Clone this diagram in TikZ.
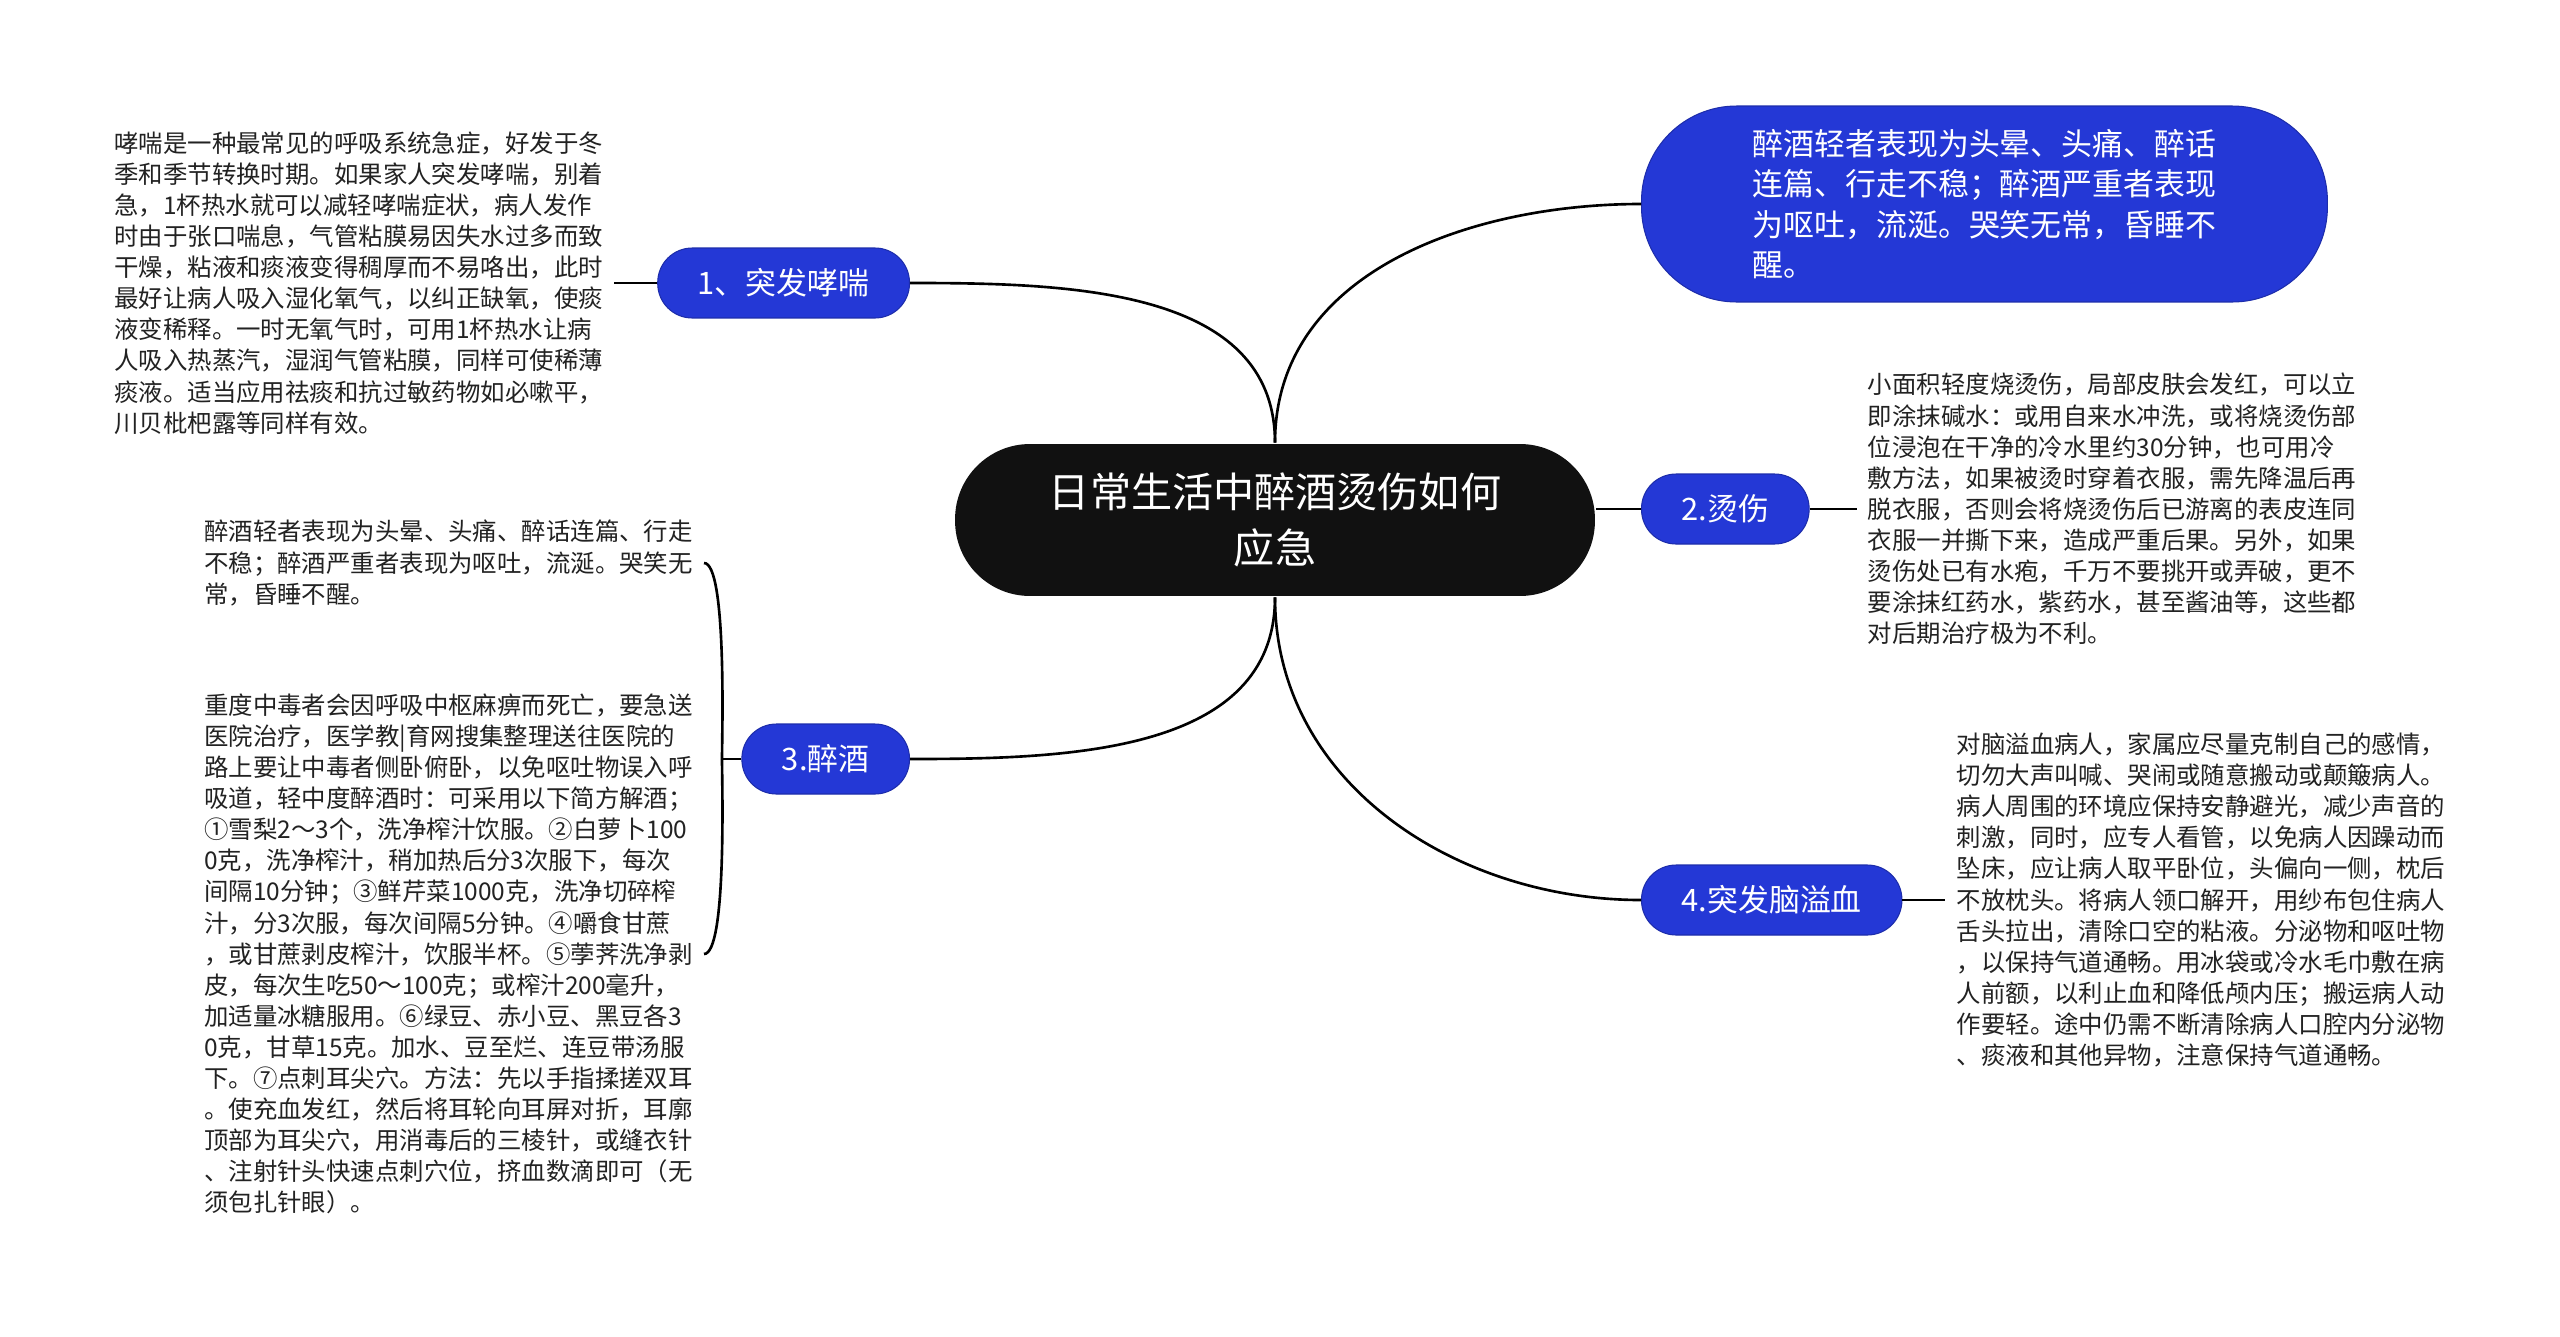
\documentclass[tikz,border=0pt]{standalone}
\usepackage{fontspec}
\setmainfont{Noto Sans CJK SC}
\usetikzlibrary{positioning}
\definecolor{mapblue}{HTML}{2438D6}
\definecolor{mapblack}{HTML}{111111}
\definecolor{mapgray}{HTML}{222222}

\begin{document}
\begin{tikzpicture}[x=0.02cm, y=0.02cm, line width=1.5pt,
    main/.style = {fill=mapblack, text=white, rounded corners=1.5cm, minimum width=12.8cm, minimum height=3.04cm, align=center, font=\fontsize{23.4}{31.5}\selectfont},
    sub/.style = {fill=mapblue, draw=mapblue!80!black, line width=0.6pt, text=white, rounded corners=0.69cm, minimum height=1.4cm, inner xsep=0.8cm, font=\fontsize{17.6}{23.1}\selectfont},
    leaf/.style = {align=left, inner xsep=0.2cm, inner ysep=0pt, text=mapgray, font=\fontsize{13.9}{17.7}\selectfont}]
    \fill[white] (0,0) rectangle (2560,-1336);
    \useasboundingbox (0,0) rectangle (2560,-1336);

    % Nodes
    \node[main] (0) at (1275,-520) {日常生活中醉酒烫伤如何\\应急};
    \node[sub, anchor=east] (1) at (910,-283) {1、突发哮喘};
    \node[sub, anchor=west] (2) at (1641,-509) {2.烫伤};
    \node[sub, anchor=east] (3) at (910,-759) {3.醉酒};
    \node[sub, anchor=west] (4) at (1641,-900) {4.突发脑溢血};
    \node[sub, anchor=west, align=left, minimum width=13.72cm, minimum height=3.92cm, rounded corners=1.9cm, inner xsep=0pt] (5) at (1641,-204)
        {醉酒轻者表现为头晕、头痛、醉话\\连篇、行走不稳；醉酒严重者表现\\为呕吐，流涎。哭笑无常，昏睡不\\醒。};

    \node[leaf, left=0.86cm of 1] (6) {哮喘是一种最常见的呼吸系统急症，好发于冬\\
        季和季节转换时期。如果家人突发哮喘，别着\\
        急，1杯热水就可以减轻哮喘症状，病人发作\\
        时由于张口喘息，气管粘膜易因失水过多而致\\
        干燥，粘液和痰液变得稠厚而不易咯出，此时\\
        最好让病人吸入湿化氧气，以纠正缺氧，使痰\\
        液变稀释。一时无氧气时，可用1杯热水让病\\
        人吸入热蒸汽，湿润气管粘膜，同样可使稀薄\\
        痰液。适当应用祛痰和抗过敏药物如必嗽平，\\
        川贝枇杷露等同样有效。};
    \node[leaf, right=0.94cm of 2] (7) {小面积轻度烧烫伤，局部皮肤会发红，可以立\\
        即涂抹碱水：或用自来水冲洗，或将烧烫伤部\\
        位浸泡在干净的冷水里约30分钟，也可用冷\\
        敷方法，如果被烫时穿着衣服，需先降温后再\\
        脱衣服，否则会将烧烫伤后已游离的表皮连同\\
        衣服一并撕下来，造成严重后果。另外，如果\\
        烫伤处已有水疱，千万不要挑开或弄破，更不\\
        要涂抹红药水，紫药水，甚至酱油等，这些都\\
        对后期治疗极为不利。};
    \node[leaf, anchor=east] (8) at (704,-563) {醉酒轻者表现为头晕、头痛、醉话连篇、行走\\
        不稳；醉酒严重者表现为呕吐，流涎。哭笑无\\
        常，昏睡不醒。};
    \node[leaf, anchor=east] (9) at (704,-954) {重度中毒者会因呼吸中枢麻痹而死亡，要急送\\
        医院治疗，医学教|育网搜集整理送往医院的\\
        路上要让中毒者侧卧俯卧，以免呕吐物误入呼\\
        吸道，轻中度醉酒时：可采用以下简方解酒；\\
        ①雪梨2～3个，洗净榨汁饮服。②白萝卜100\\
        0克，洗净榨汁，稍加热后分3次服下，每次\\
        间隔10分钟；③鲜芹菜1000克，洗净切碎榨\\
        汁，分3次服，每次间隔5分钟。④嚼食甘蔗\\
        ，或甘蔗剥皮榨汁，饮服半杯。⑤荸荠洗净剥\\
        皮，每次生吃50～100克；或榨汁200毫升，\\
        加适量冰糖服用。⑥绿豆、赤小豆、黑豆各3\\
        0克，甘草15克。加水、豆至烂、连豆带汤服\\
        下。⑦点刺耳尖穴。方法：先以手指揉搓双耳\\
        。使充血发红，然后将耳轮向耳屏对折，耳廓\\
        顶部为耳尖穴，用消毒后的三棱针，或缝衣针\\
        、注射针头快速点刺穴位，挤血数滴即可（无\\
        须包扎针眼）。};
    \node[leaf, right=0.86cm of 4] (10) {对脑溢血病人，家属应尽量克制自己的感情，\\
        切勿大声叫喊、哭闹或随意搬动或颠簸病人。\\
        病人周围的环境应保持安静避光，减少声音的\\
        刺激，同时，应专人看管，以免病人因躁动而\\
        坠床，应让病人取平卧位，头偏向一侧，枕后\\
        不放枕头。将病人领口解开，用纱布包住病人\\
        舌头拉出，清除口空的粘液。分泌物和呕吐物\\
        ，以保持气道通畅。用冰袋或冷水毛巾敷在病\\
        人前额，以利止血和降低颅内压；搬运病人动\\
        作要轻。途中仍需不断清除病人口腔内分泌物\\
        、痰液和其他异物，注意保持气道通畅。};
    \coordinate (j) at (722,-759);

    % Lines
    \draw (0.north) to[out=90, in=0] (1.east);
    \draw (0.north) to[out=90, in=180] (5.west);
    \draw (0.east |- 2.west) -- (2.west);
    \draw (0.south) to[out=-90, in=0] (3.east);
    \draw (0.south) to[out=-90, in=180] (4.west);
    \draw (1.west) -- (6.east);
    \draw (2.east) -- (7.west);
    \draw (4.east) -- (10.west);
    \draw (3.west) -- (j);
    \draw (j) to[out=90, in=0, looseness=0.3] (8.east);
    \draw (j) to[out=-90, in=0, looseness=0.3] (9.east);
\end{tikzpicture}
\end{document}
